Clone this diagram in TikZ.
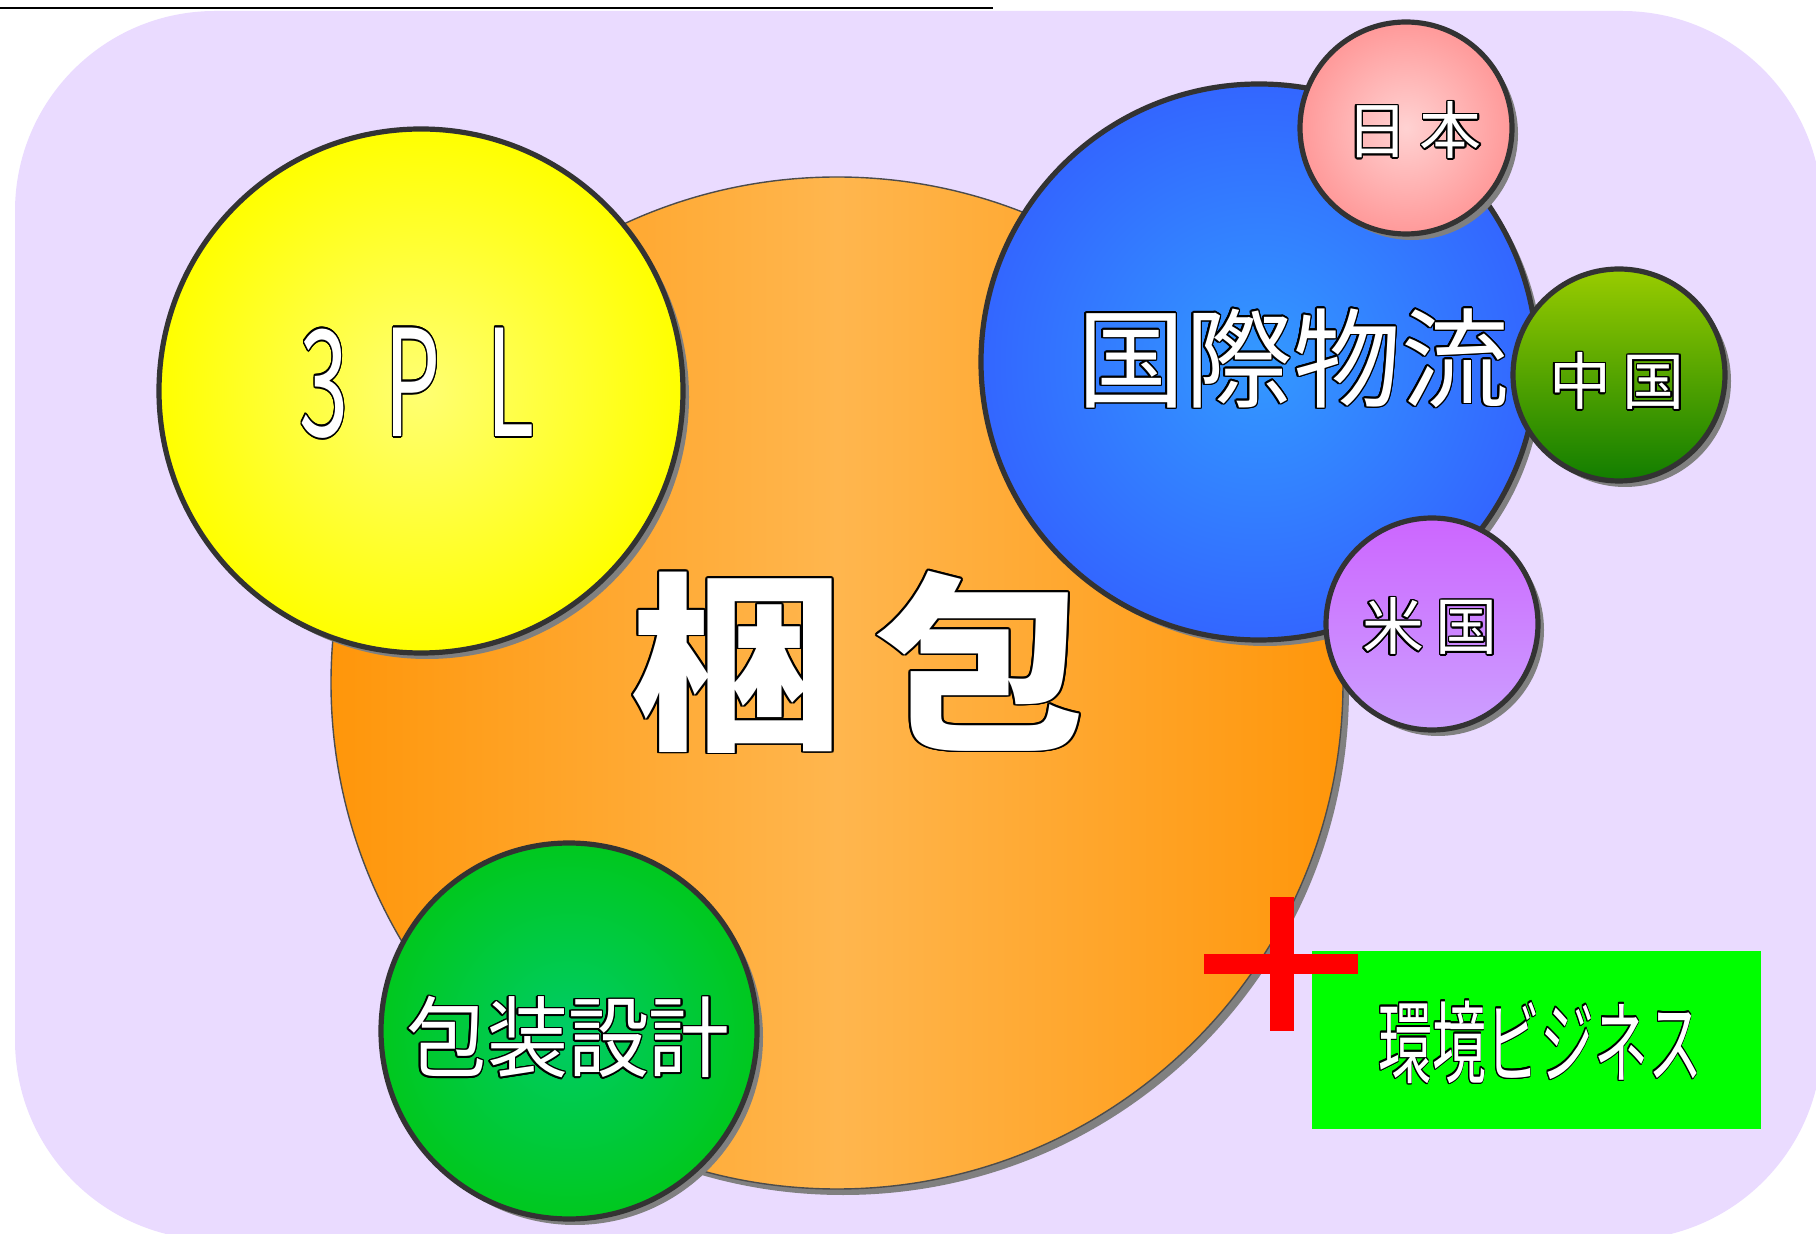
\documentclass[tikz,border=0pt]{standalone}
\usepackage{fontspec}
\usepackage[copies]{contour}
\usetikzlibrary{shadows}
\newfontfamily\jp{Noto Sans CJK JP}
\contourlength{0.8pt}
\newcommand\waku[1]{\contour{black}{#1}}

\begin{document}
\begin{tikzpicture}[x=0.5pt,y=-0.5pt]
\tikzset{ball/.style={circle,draw=rim,line width=2.6pt,inner sep=0pt,minimum size=#1,
    drop shadow={shadow xshift=3pt,shadow yshift=-3pt,fill=black!50,opacity=1}},
  moji/.style={text=white,inner sep=0pt,font=\jp\fontsize{#1}{#1}\selectfont}}
\colorlet{rim}{black!80}
\definecolor{lilac}{RGB}{234,219,255}
\definecolor{orangeEdge}{RGB}{255,150,10}  \definecolor{orangeMid}{RGB}{255,182,78}
\definecolor{blueEdge}{RGB}{51,102,255}    \definecolor{blueMid}{RGB}{51,153,255}
\definecolor{pinkEdge}{RGB}{255,153,153}   \definecolor{pinkMid}{RGB}{255,210,210}
\definecolor{leafTop}{RGB}{153,204,0}      \definecolor{leafBot}{RGB}{17,125,0}
\definecolor{plumTop}{RGB}{204,102,255}    \definecolor{plumBot}{RGB}{204,160,255}
\definecolor{grassEdge}{RGB}{0,200,30}     \definecolor{grassMid}{RGB}{0,204,102}

\useasboundingbox (0,0) rectangle (1816,1234);
\fill[lilac,rounded corners=100pt] (15,11) rectangle (1822,1240);
\draw[line width=1pt] (0,8) -- (993,8);

% circles
\node[ball=506pt,draw=black!70,line width=0.7pt,left color=orangeEdge,right color=orangeEdge,middle color=orangeMid] (konpo) at (837,683) {};
\node[ball=262pt,inner color=yellow!55!white,outer color=yellow] (tpl) at (421,391) {};
\node[ball=278pt,inner color=blueMid,outer color=blueEdge] (kokusai) at (1259,362) {};
\node[ball=188pt,inner color=grassMid,outer color=grassEdge] (hoso) at (569,1031) {};
\node[ball=106pt,inner color=pinkMid,outer color=pinkEdge] (nihon) at (1406,128) {};
\node[ball=106pt,top color=leafTop,bottom color=leafBot] (chugoku) at (1619,375) {};
\node[ball=106pt,top color=plumTop,bottom color=plumBot] (beikoku) at (1432,624) {};
\node[fill=green,inner sep=0pt,minimum width=224.5pt,minimum height=88.5pt] (kankyo) at (1536,1040) {};

% red plus
\fill[red] (1270,897) rectangle (1294,1031);
\fill[red] (1204,954) rectangle (1358,974);

% labels
\node[moji=95pt] (konpo-t) at (859,663) {\bfseries\scalebox{1.12}[1]{\waku{梱\hspace{14pt}包}}};
\node[moji=74pt] (tpl-t) at (417,384) {\scalebox{0.6}[1]{\waku{3\hspace{30pt}P\hspace{38pt}L}}};
\node[moji=54pt] (kokusai-t) at (1293,359) {\waku{国際物流}};
\node[moji=31pt] (nihon-t) at (1414,131) {\waku{日\hspace{6pt}本}};
\node[moji=31pt] (chugoku-t) at (1617,382) {\waku{中\hspace{6pt}国}};
\node[moji=31pt] (beikoku-t) at (1430,627) {\waku{米\hspace{6pt}国}};
\node[moji=44pt] (hoso-t) at (568,1038) {\scalebox{0.92}[1]{\waku{包装設計}}};
\node[moji=45pt] (kankyo-t) at (1540,1043) {\scalebox{0.6}[1]{\waku{環境ビジネス}}};
\end{tikzpicture}
\end{document}
